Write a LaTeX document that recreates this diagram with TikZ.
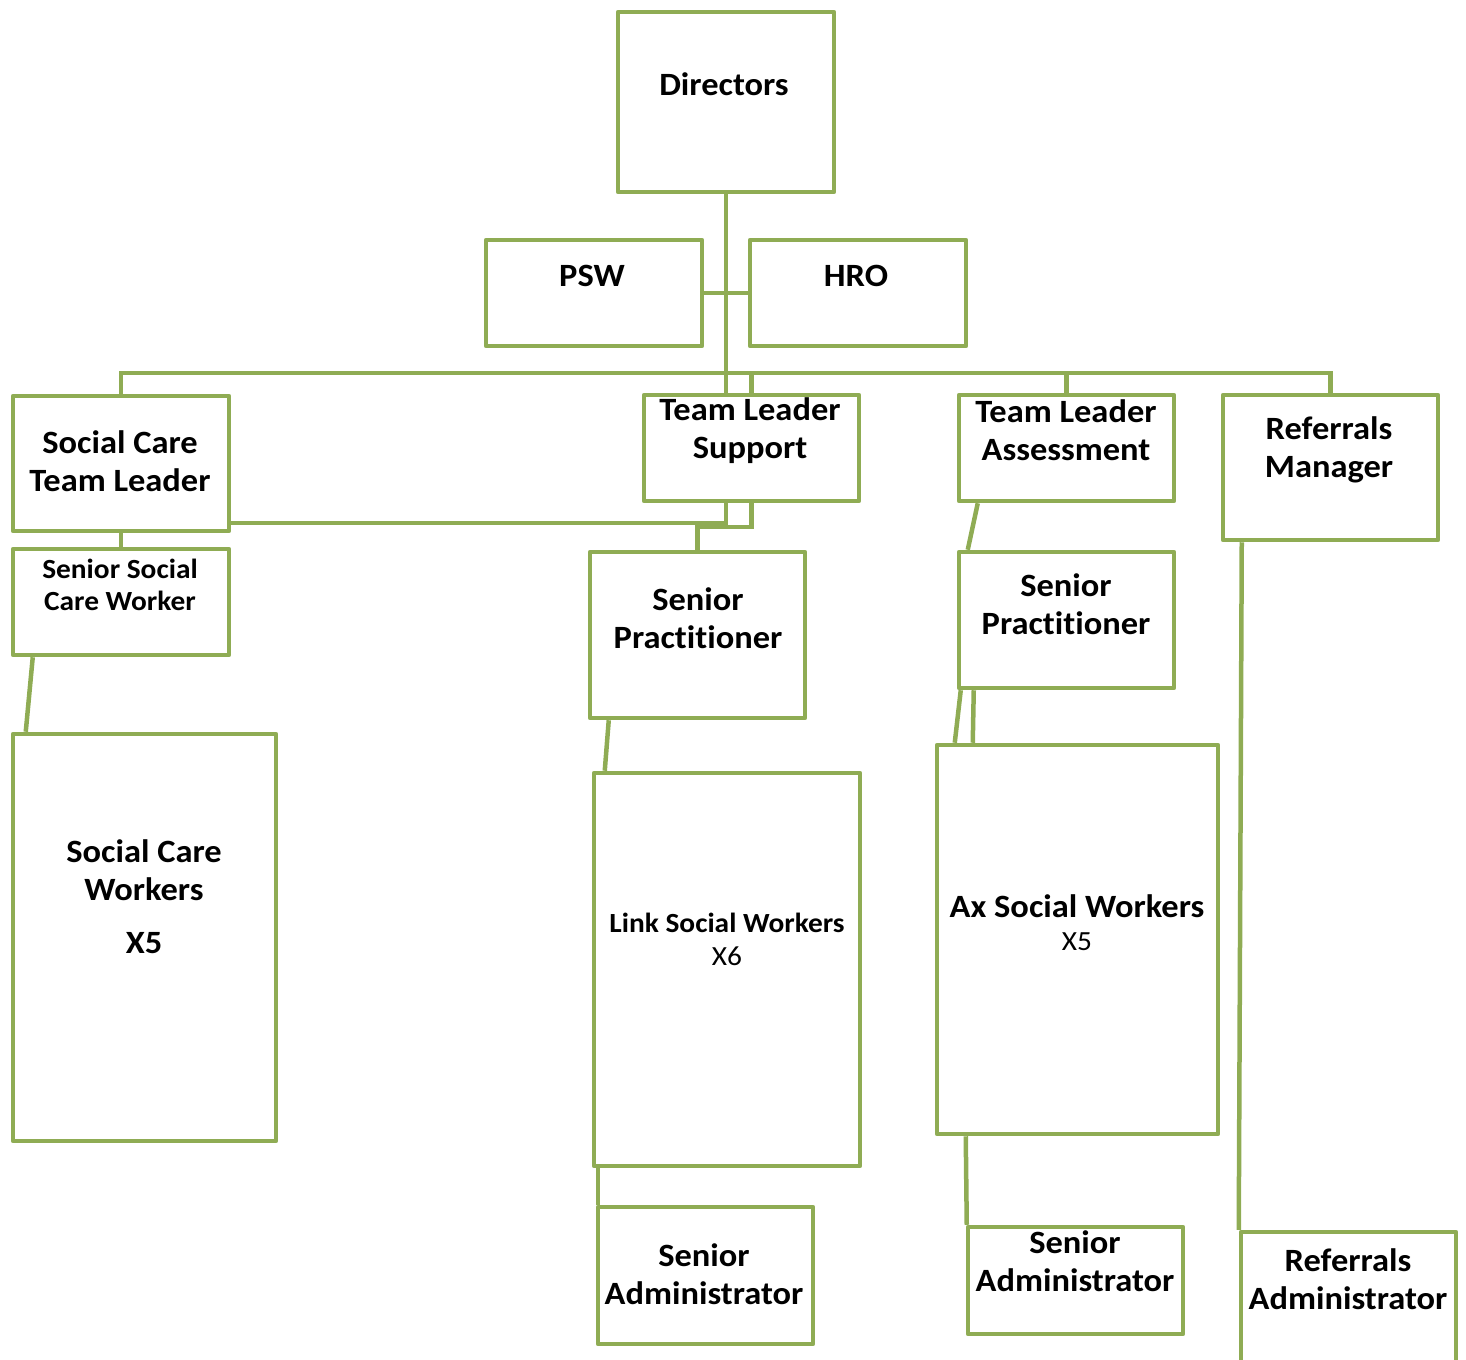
\documentclass[tikz,border=0pt]{standalone}
\usepackage{fontspec}
\setmainfont{Carlito}[Ligatures=NoCommon, FakeStretch=1.06]
\definecolor{gr}{RGB}{143,172,84}
\begin{document}
\begin{tikzpicture}[x=1pt,y=-1pt,
  box/.style={draw=gr, line width=4.5pt, line join=round, inner sep=0pt, fill=white},
  conn/.style={draw=gr, line width=4.5pt},
  lbl/.style={font=\fontsize{32.5}{38}\selectfont\bfseries, align=center, inner sep=0pt},
  sml/.style={font=\fontsize{27.7}{32}\selectfont\bfseries, align=center, inner sep=0pt},
  reg/.style={font=\fontsize{27.7}{32}\selectfont, align=center, inner sep=0pt}]
\useasboundingbox (0,0) rectangle (1466,1359);
% boxes
\node[box, minimum width=216, minimum height=180] (dir) at (726,102) {};
\node[box, minimum width=216, minimum height=106] (psw) at (594,293) {};
\node[box, minimum width=216, minimum height=106] (hro) at (858,293) {};
\node[box, minimum width=216, minimum height=135] (sctl) at (121,463.5) {};
\node[box, minimum width=215, minimum height=106] (tls) at (751.5,448) {};
\node[box, minimum width=215, minimum height=106] (tla) at (1066.5,448) {};
\node[box, minimum width=215, minimum height=145] (rm) at (1330.5,467.5) {};
\node[box, minimum width=216, minimum height=106] (sscw) at (121,602) {};
\node[box, minimum width=215, minimum height=166] (spm) at (697.5,635) {};
\node[box, minimum width=215, minimum height=136] (spr) at (1066.5,620) {};
\node[box, minimum width=263, minimum height=407] (scw) at (144.5,937.5) {};
\node[box, minimum width=266, minimum height=393] (lsw) at (727,969.5) {};
\node[box, minimum width=281, minimum height=389] (ax) at (1077.5,939.5) {};
\node[box, minimum width=215, minimum height=137] (sam) at (705.5,1275.5) {};
\node[box, minimum width=215, minimum height=107] (sar) at (1075.5,1280.5) {};
\node[box, minimum width=215, minimum height=138] (ra) at (1348.5,1301) {};
% junction coordinates
\coordinate (bus) at (0,373);
\coordinate (j1) at (726,523);
\coordinate (j2) at (751.5,527);
% connectors
\draw[conn] (dir.south) -- (dir.south |- tls.north);
\draw[conn] (psw.east) -- (hro.west);
\draw[conn] (sctl.north) -- (sctl.north |- bus) -- (rm.north |- bus) -- (rm.north);
\draw[conn] (tls.north) -- (tls.north |- bus);
\draw[conn] (tla.north) -- (tla.north |- bus);
\draw[conn] (sctl.east |- j1) -- (j1) -- (j1 |- tls.south);
\draw[conn] (tls.south) -- (j2) -| (spm.north);
\draw[conn] (sctl.south) -- (sscw.north);
\draw[conn] ([xshift=22]sscw.south west) -- ([xshift=15]scw.north west);
\draw[conn] ([xshift=21]spm.south west) -- ([xshift=13]lsw.north west);
\draw[conn] ([xshift=6]lsw.south west) -- ([xshift=2]sam.north west);
\draw[conn] ([xshift=21]tla.south west) -- ([xshift=11]spr.north west);
\draw[conn] ([xshift=4]spr.south west) -- ([xshift=20]ax.north west);
\draw[conn] ([xshift=17]spr.south west) -- ([xshift=38]ax.north west);
\draw[conn] ([xshift=31]ax.south west) -- ([xshift=1]sar.north west);
\draw[conn] ([xshift=21]rm.south west) -- ([xshift=0]ra.north west);
% labels
\node[lbl] (tdir) at (724,84) {Directors};
\node[lbl] (tpsw) at (592,276) {PSW};
\node[lbl] (thro) at (856,276) {HRO};
\node[lbl] (tsctl) at (120,461.5) {Social Care\\Team Leader};
\node[lbl] (ttls) at (750,430.5) {Team Leader\\Support};
\node[lbl] (ttla) at (1066,430.5) {Team Leader\\Assessment};
\node[lbl] (trm) at (1329,450) {Referrals\\Manager};
\node[sml] (tsscw) at (120,585) {Senior Social\\Care Worker};
\node[lbl] (tspm) at (698,618) {Senior\\Practitioner};
\node[lbl] (tspr) at (1066,604) {Senior\\Practitioner};
\node[lbl] (tscw) at (144,870) {Social Care\\Workers};
\node[lbl] (tscwx) at (144,943) {X5};
\node[sml] (tlsw) at (727,923) {Link Social Workers};
\node[reg] (tlswx) at (727,956) {X6};
\node[lbl] (tax) at (1077,906) {Ax Social Workers};
\node[reg] (taxx) at (1077,942) {X5};
\node[lbl] (tsam) at (704,1274) {Senior\\Administrator};
\node[lbl] (tsar) at (1075,1261) {Senior\\Administrator};
\node[lbl] (tra) at (1348,1279) {Referrals\\Administrator};
\end{tikzpicture}
\end{document}
